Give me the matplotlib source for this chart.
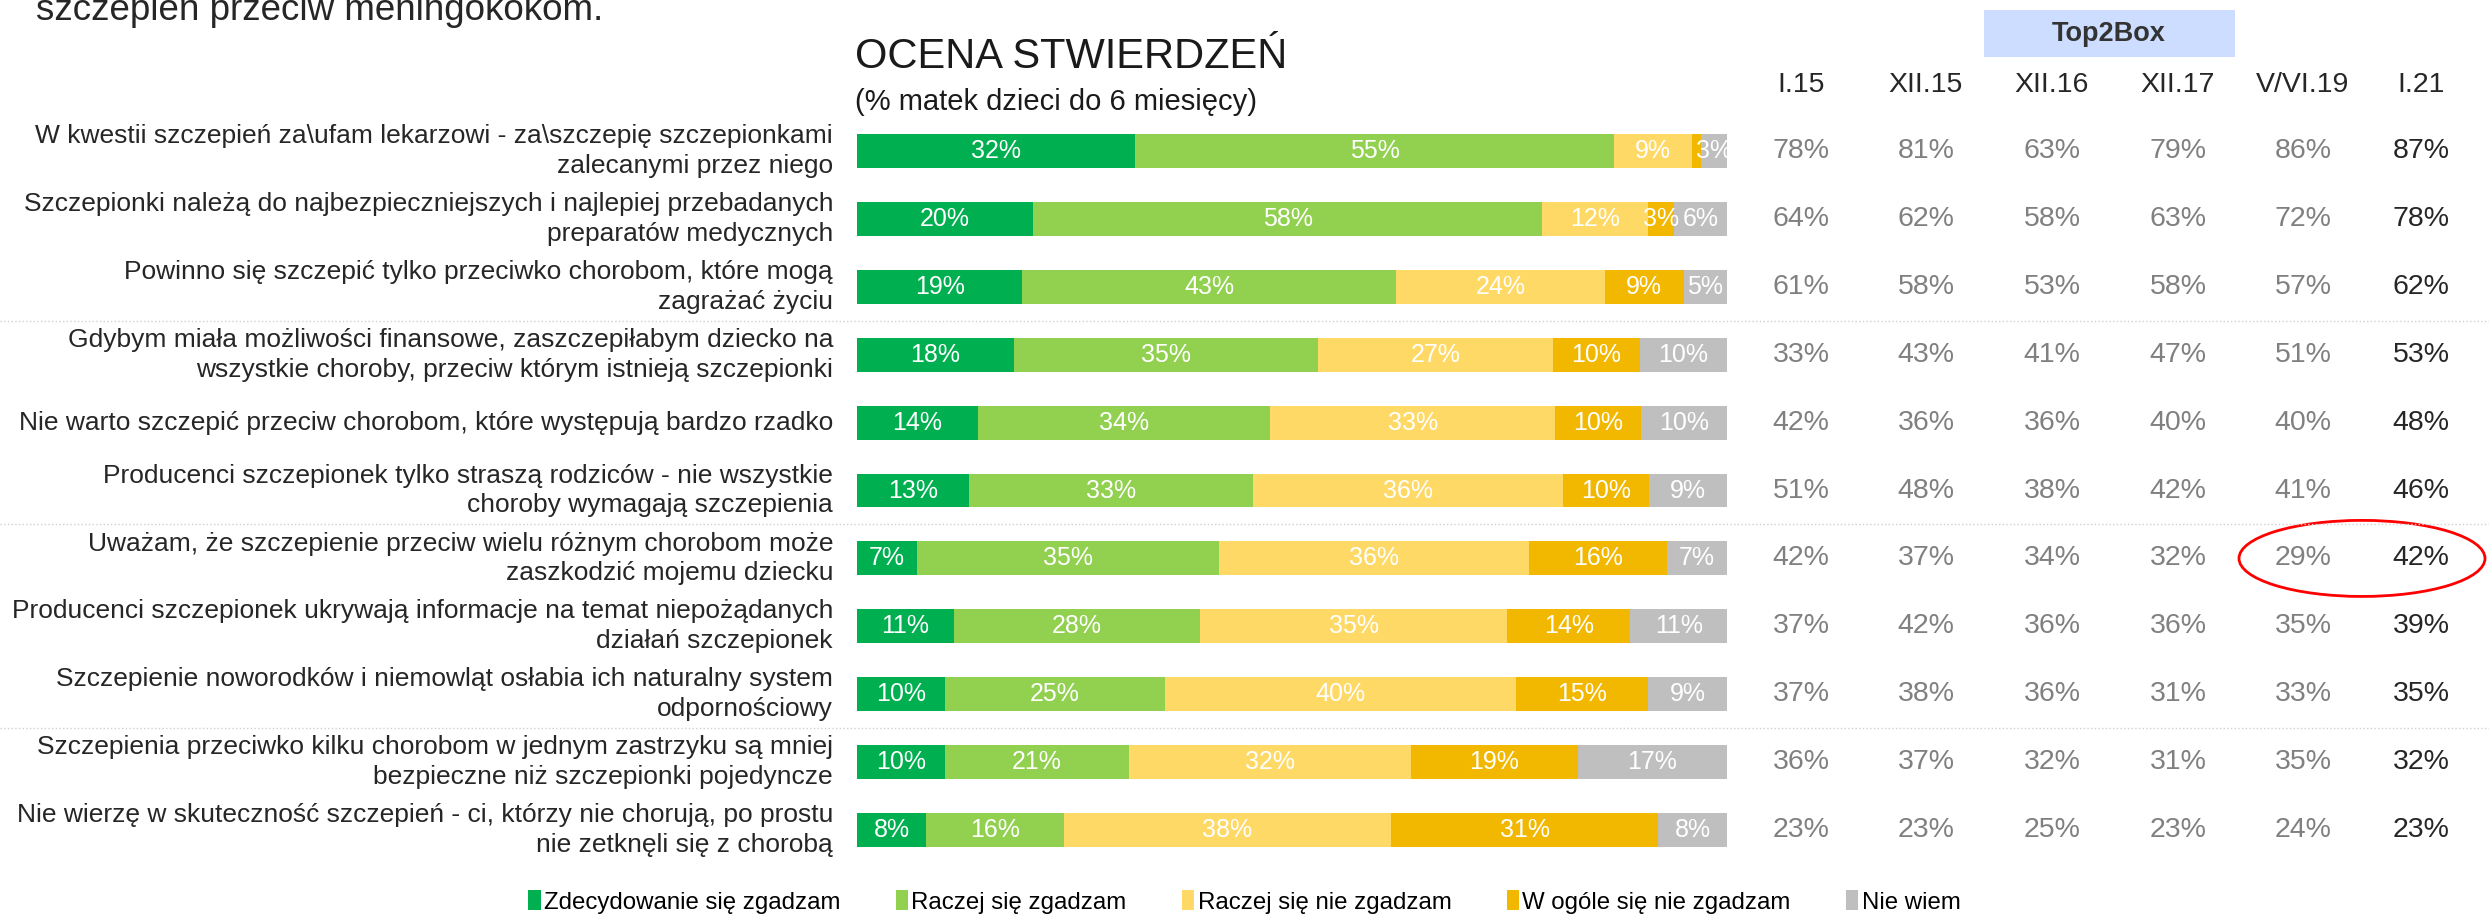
import matplotlib
matplotlib.use('Agg')
import matplotlib.pyplot as plt
from matplotlib.patches import Ellipse, Rectangle, Patch
from matplotlib.lines import Line2D
from matplotlib.transforms import blended_transform_factory
import numpy as np

plt.rcParams['font.family'] = ['Liberation Sans', 'DejaVu Sans']

statements = [
    "W kwestii szczepień za\\ufam lekarzowi - za\\szczepię szczepionkami\nzalecanymi przez niego",
    "Szczepionki należą do najbezpieczniejszych i najlepiej przebadanych\npreparatów medycznych",
    "Powinno się szczepić tylko przeciwko chorobom, które mogą\nzagrażać życiu",
    "Gdybym miała możliwości finansowe, zaszczepiłabym dziecko na\nwszystkie choroby, przeciw którym istnieją szczepionki",
    "Nie warto szczepić przeciw chorobom, które występują bardzo rzadko",
    "Producenci szczepionek tylko straszą rodziców - nie wszystkie\nchoroby wymagają szczepienia",
    "Uważam, że szczepienie przeciw wielu różnym chorobom może\nzaszkodzić mojemu dziecku",
    "Producenci szczepionek ukrywają informacje na temat niepożądanych\ndziałań szczepionek",
    "Szczepienie noworodków i niemowląt osłabia ich naturalny system\nodpornościowy",
    "Szczepienia przeciwko kilku chorobom w jednym zastrzyku są mniej\nbezpieczne niż szczepionki pojedyncze",
    "Nie wierzę w skuteczność szczepień - ci, którzy nie chorują, po prostu\nnie zetknęli się z chorobą",
]

categories = ["Zdecydowanie się zgadzam", "Raczej się zgadzam", "Raczej się nie zgadzam",
              "W ogóle się nie zgadzam", "Nie wiem"]

strongly_agree = [32, 20, 19, 18, 14, 13, 7, 11, 10, 10, 8]
rather_agree = [55, 58, 43, 35, 34, 33, 35, 28, 25, 21, 16]
rather_disagree = [9, 12, 24, 27, 33, 36, 36, 35, 40, 32, 38]
strongly_disagree = [1, 3, 9, 10, 10, 10, 16, 14, 15, 19, 31]
dont_know = [3, 6, 5, 10, 10, 9, 7, 11, 9, 17, 8]

waves = ["I.15", "XII.15", "XII.16", "XII.17", "V/VI.19", "I.21"]
t2b_I15 = [78, 64, 61, 33, 42, 51, 42, 37, 37, 36, 23]
t2b_XII15 = [81, 62, 58, 43, 36, 48, 37, 42, 38, 37, 23]
t2b_XII16 = [63, 58, 53, 41, 36, 38, 34, 36, 36, 32, 25]
t2b_XII17 = [79, 63, 58, 47, 40, 42, 32, 36, 31, 31, 23]
t2b_VVI19 = [86, 72, 57, 51, 40, 41, 29, 35, 33, 35, 24]
t2b_I21 = [87, 78, 62, 53, 48, 46, 42, 39, 35, 32, 23]

colors = ["#00B050", "#92D050", "#FFD966", "#F2B800", "#BFBFBF"]

W, H = 2489, 914
fig = plt.figure(figsize=(W / 100, H / 100), dpi=100)


def fx(px):
    return px / W


def fy(py):
    return 1 - py / H


ax = fig.add_axes([fx(857), fy(864), (1727 - 857) / W, (864 - 117) / H])
ax.set_xlim(0, 100)
ax.set_ylim(10.5, -0.5)
ax.axis('off')

data = np.array([strongly_agree, rather_agree, rather_disagree, strongly_disagree, dont_know], dtype=float)
totals = data.sum(axis=0)
norm = data / totals * 100
ypos = np.arange(len(statements))
left = np.zeros(len(statements))
handles = []
for k, cat in enumerate(categories):
    ax.barh(ypos, norm[k], left=left, height=0.5, color=colors[k], linewidth=0)
    handles.append(Patch(facecolor=colors[k], label=cat))
    for i in range(len(statements)):
        if data[k, i] >= 2:
            ax.text(left[i] + norm[k, i] / 2, i, f"{int(data[k, i])}%", ha='center', va='center',
                    color='white', fontsize=18)
    left += norm[k]

tr = blended_transform_factory(fig.transFigure, ax.transData)

for i, s in enumerate(statements):
    fig.text(fx(833), i, s, transform=tr, ha='right', va='center', multialignment='right',
             fontsize=19, color='#262626', linespacing=1.3)

col_x = [1801, 1926, 2052, 2178, 2303, 2421]
table = [t2b_I15, t2b_XII15, t2b_XII16, t2b_XII17, t2b_VVI19, t2b_I21]
for j, w in enumerate(waves):
    fig.text(fx(col_x[j]), fy(85), w, ha='center', va='center', fontsize=20.5, color='#262626')
    c = '#262626' if j == len(waves) - 1 else '#808080'
    for i, v in enumerate(table[j]):
        fig.text(fx(col_x[j]), i, f"{v}%", transform=tr, ha='center', va='center', fontsize=20.5, color=c)

fig.patches.append(Rectangle((fx(1984), fy(57)), (2235 - 1984) / W, 47 / H, transform=fig.transFigure,
                             facecolor='#CCDDFF', edgecolor='none'))
fig.text(fx(2109), fy(34), "Top2Box", ha='center', va='center', fontsize=19.5, fontweight='bold', color='#333333')

for yv in [2.5, 5.5, 8.5]:
    fig.add_artist(Line2D([0, fx(2489)], [yv, yv], transform=tr, color='#D0D0D0', linestyle=':', linewidth=1))

fig.add_artist(Ellipse((fx(2362), 6), 246 / W, 1.12, transform=tr, fill=False, edgecolor='#FF0000', linewidth=2))

fig.text(fx(855), fy(57), "OCENA STWIERDZEŃ", ha='left', va='center', fontsize=30, color='#1a1a1a')
fig.text(fx(855), fy(102), "(% matek dzieci do 6 miesięcy)", ha='left', va='center', fontsize=21, color='#1a1a1a')
fig.text(fx(36), fy(20), "szczepień przeciw meningokokom.", ha='left', va='baseline', fontsize=26.5, color='#262626')

fig.legend(handles=handles, loc='center', bbox_to_anchor=(0.5, fy(902)), ncol=5, frameon=False, fontsize=17.3,
           handlelength=0.5, handleheight=0.9, handletextpad=0.15, columnspacing=2.3)

fig.savefig('out.png', dpi=100)
